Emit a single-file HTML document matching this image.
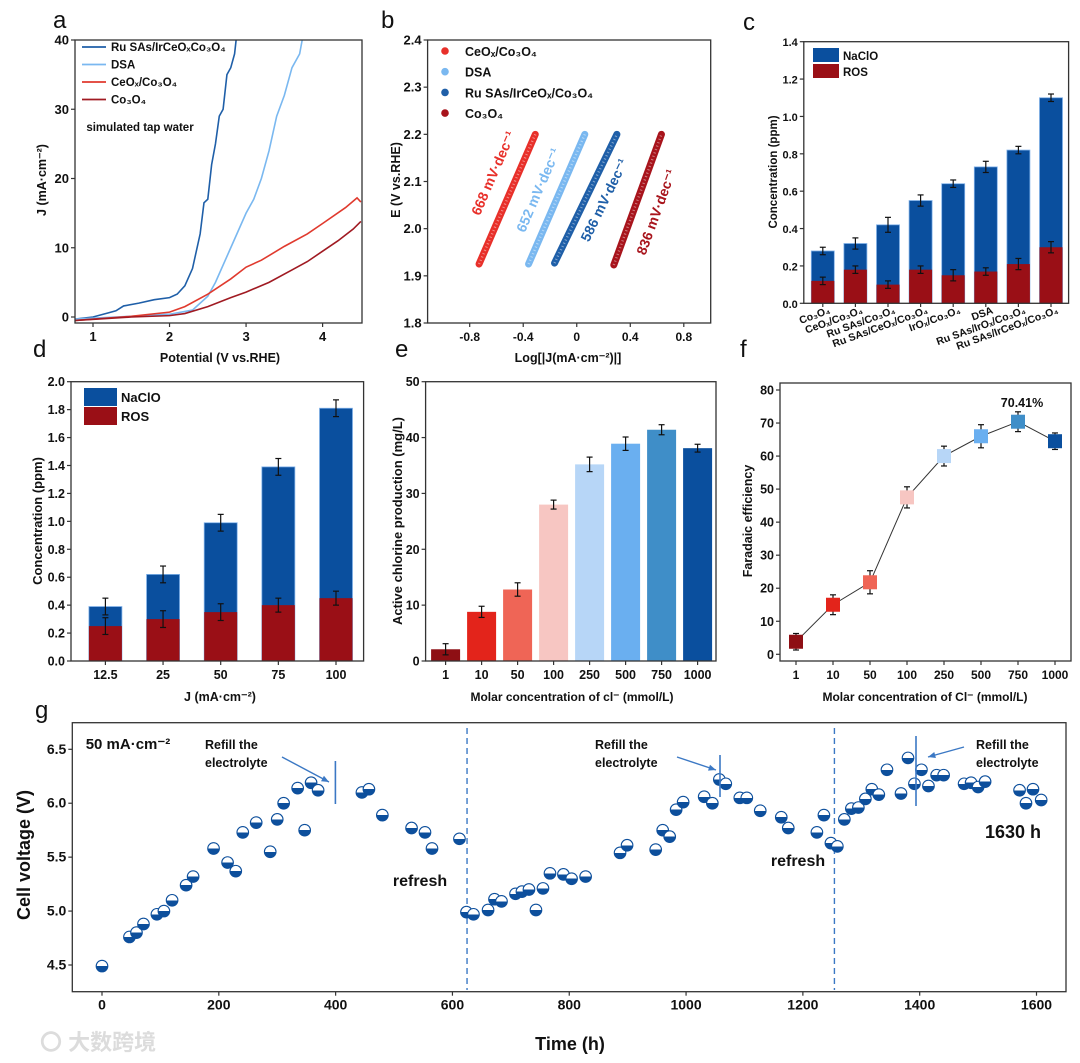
<!DOCTYPE html>
<html><head><meta charset="utf-8">
<style>
html,body{margin:0;padding:0;background:#fff;}
svg{display:block;font-family:"Liberation Sans","Noto Sans CJK SC",sans-serif;font-weight:bold;}
</style></head>
<body>
<svg id="fig" width="1080" height="1063" viewBox="0 0 1080 1063" xmlns="http://www.w3.org/2000/svg">
<defs>
<linearGradient id="half" x1="0" y1="0" x2="0" y2="1">
<stop offset="0.5" stop-color="#ffffff"/><stop offset="0.5" stop-color="#0d4f9c"/>
</linearGradient>
<clipPath id="clipA"><rect x="75" y="40" width="287" height="283"/></clipPath>
</defs>
<text x="40" y="1050" font-size="22" fill="#dcdcdc">〇 大数跨境</text>
</svg>
<script>
// ---------- DATA ----------
const aRu = [[0.77,-0.3],[1.0,0],[1.2,0.6],[1.3,0.9],[1.4,1.6],[1.6,2.0],[1.8,2.5],[2.0,2.8],[2.1,3.3],[2.2,4.5],[2.3,7],[2.4,12],[2.45,16.5],[2.5,17],[2.55,22],[2.6,25],[2.65,29],[2.7,30],[2.75,35],[2.8,36],[2.85,38],[2.88,41]];
const aDSA = [[0.77,-0.3],[1.5,0.1],[2.0,0.4],[2.3,1],[2.5,3],[2.6,5],[2.8,10],[3.0,15],[3.1,17],[3.2,20],[3.3,24],[3.4,29],[3.5,32],[3.6,36],[3.7,38],[3.75,41],[3.85,41]];
const aCe = [[0.77,-0.5],[1.5,0.1],[2.0,0.7],[2.2,1.5],[2.5,3.3],[2.8,5.5],[3.0,7.2],[3.2,8.2],[3.5,10.2],[3.8,12],[4.0,13.5],[4.3,15.8],[4.45,17.2],[4.5,16.6]];
const aCo = [[0.77,-0.5],[1.5,0],[2.0,0.2],[2.2,0.5],[2.5,1.5],[2.8,2.8],[3.0,3.6],[3.3,5],[3.6,6.8],[3.8,8],[4.0,9.5],[4.2,11],[4.4,12.7],[4.5,13.8]];
const aXTicks = [1,2,3,4];
const aYTicks = [0,10,20,30,40];
const bNames = ["CeOx/Co3O4","DSA","Ru SAs/IrCeOx/Co3O4","Co3O4"];
const bStart = [[-0.73,1.925],[-0.36,1.925],[-0.166,1.927],[0.277,1.923]];
const bEnd = [[-0.31,2.2],[0.06,2.2],[0.30,2.2],[0.633,2.2]];
const bSlopes = ["668","652","586","836"];
const bXTicks = [-0.8,-0.4,0.0,0.4,0.8];
const bYTicks = [1.8,1.9,2.0,2.1,2.2,2.3,2.4];
const cCats = ["Co₃O₄","CeOₓ/Co₃O₄","Ru SAs/Co₃O₄","Ru SAs/CeOₓ/Co₃O₄","IrOₓ/Co₃O₄","DSA","Ru SAs/IrOₓ/Co₃O₄","Ru SAs/IrCeOₓ/Co₃O₄"];
const cNaClO = [0.28,0.32,0.42,0.55,0.64,0.73,0.82,1.10];
const cNaClOErr = [0.02,0.03,0.04,0.03,0.02,0.03,0.02,0.02];
const cROS = [0.12,0.18,0.10,0.18,0.15,0.17,0.21,0.30];
const cROSErr = [0.02,0.02,0.02,0.02,0.03,0.02,0.03,0.03];
const cYTicks = [0.0,0.2,0.4,0.6,0.8,1.0,1.2,1.4];
const dCats = ["12.5","25","50","75","100"];
const dNaClO = [0.39,0.62,0.99,1.39,1.81];
const dNaClOErr = [0.06,0.06,0.06,0.06,0.06];
const dROS = [0.25,0.30,0.35,0.40,0.45];
const dROSErr = [0.06,0.06,0.06,0.05,0.05];
const dYTicks = [0.0,0.2,0.4,0.6,0.8,1.0,1.2,1.4,1.6,1.8,2.0];
const eCats = ["1","10","50","100","250","500","750","1000"];
const eVals = [2.1,8.8,12.8,28,35.2,38.9,41.4,38.1];
const eErr = [1.0,1.0,1.2,0.8,1.3,1.2,0.9,0.7];
const eYTicks = [0,10,20,30,40,50];
const fVals = [3.8,15,21.8,47.5,60,66,70.4,64.5];
const fErr = [2.5,3,3.5,3.2,3,3.5,3,2.5];
const fYTicks = [0,10,20,30,40,50,60,70,80];
const gTime = [0,47,59,71,94,106,120,144,156,191,215,229,241,264,288,300,311,335,347,358,370,445,457,480,530,553,565,612,624,636,661,672,684,708,719,731,743,755,767,790,804,828,887,899,948,960,972,983,995,1031,1045,1057,1068,1092,1104,1127,1163,1175,1224,1236,1248,1259,1271,1283,1295,1307,1318,1330,1344,1368,1380,1391,1403,1415,1429,1441,1476,1488,1500,1512,1571,1582,1594,1608];
const gVolt = [4.49,4.76,4.80,4.88,4.97,5.0,5.1,5.24,5.32,5.58,5.45,5.37,5.73,5.82,5.55,5.85,6.0,6.14,5.75,6.19,6.12,6.1,6.13,5.89,5.77,5.73,5.58,5.67,4.99,4.97,5.01,5.11,5.09,5.16,5.18,5.2,5.01,5.21,5.35,5.34,5.3,5.32,5.54,5.61,5.57,5.75,5.69,5.94,6.01,6.06,6.0,6.22,6.18,6.05,6.05,5.93,5.87,5.77,5.73,5.89,5.63,5.6,5.85,5.95,5.96,6.04,6.13,6.08,6.31,6.09,6.42,6.18,6.31,6.16,6.26,6.26,6.18,6.19,6.15,6.2,6.12,6.0,6.13,6.03];
const gXTicks = [0,200,400,600,800,1000,1200,1400,1600];
const gYTicks = [4.5,5.0,5.5,6.0,6.5];
const gRefresh = [625,1254];

const barColors = ["#8e0f14","#e3241b","#ef6556","#f7c6c2","#b7d6f7","#6aaff0","#3f8ec8","#0a4f9e"];
const NAVY = "#0a4f9e", RED = "#9a0f16";

// ---------- HELPERS ----------
const svg = document.getElementById('fig');
const NS = "http://www.w3.org/2000/svg";
function mk(tag, attrs, parent){
  const el = document.createElementNS(NS, tag);
  for (const k in attrs) el.setAttribute(k, attrs[k]);
  (parent||svg).appendChild(el);
  return el;
}
function lin(d0,d1,r0,r1){ return v => r0 + (v-d0)*(r1-r0)/(d1-d0); }
function txt(x,y,s,size,anchor,fill,parent){
  const t = mk('text',{x:x,y:y,'font-size':size,'text-anchor':anchor||'start',fill:fill||'#111'},parent);
  t.textContent = s;
  return t;
}
function frame(x0,y0,x1,y1,name){
  const r = mk('rect',{x:x0,y:y0,width:x1-x0,height:y1-y0,fill:'none',stroke:'#333','stroke-width':1.3});
  
  
}
function yAxis(ticks, ys, x0, fmt, size, name){
  const g = mk('g',{});
  
  
  ticks.forEach(v=>{
    mk('line',{x1:x0-4,x2:x0,y1:ys(v),y2:ys(v),stroke:'#333','stroke-width':1.2},g);
    txt(x0-6, ys(v)+4.5, fmt(v), size||12, 'end', '#111', g);
  });
}
function xAxis(labels, xs, y0, size, name){
  const g = mk('g',{});
  
  
  labels.forEach((l,i)=>{
    const x = xs(i, l);
    mk('line',{x1:x,x2:x,y1:y0,y2:y0+4,stroke:'#333','stroke-width':1.2},g);
    txt(x, y0+18, String(l), size||12, 'middle', '#111', g);
  });
}
function errBar(x,y1,y2,parent){
  mk('line',{x1:x,x2:x,y1:y1,y2:y2,stroke:'#111','stroke-width':1.2},parent);
  mk('line',{x1:x-3,x2:x+3,y1:y1,y2:y1,stroke:'#111','stroke-width':1.2},parent);
  mk('line',{x1:x-3,x2:x+3,y1:y2,y2:y2,stroke:'#111','stroke-width':1.2},parent);
}
function panelLabel(x,y,s){
  const t = txt(x,y,s,24,'start','#111');
  t.setAttribute('font-weight','normal');
  
  
}
function rotTitle(x,y,s,size,name){
  const t = txt(x,y,s,size,'middle','#111');
  t.setAttribute('transform','rotate(-90 '+x+' '+y+')');
  
  
}
function title(x,y,s,size,name){
  const t = txt(x,y,s,size,'middle','#111');
  
  
}

// ---------- PANEL A ----------
panelLabel(53,28,'a');
const xa = lin(1,4,93,322.6), ya = lin(0,40,317,40);
const aSeries = [[aRu,'#1f5fa8','ru-sas-curve'],[aDSA,'#7ab8f0','dsa-curve'],[aCe,'#e03a2e','ceox-curve'],[aCo,'#a01a22','co3o4-curve']];
aSeries.forEach(s=>{
  const p = mk('polyline',{points:s[0].map(d=>xa(d[0])+','+ya(d[1])).join(' '),fill:'none',stroke:s[1],'stroke-width':1.6,'clip-path':'url(#clipA)'});
  
  
});
frame(75,40,362,323,'panel-a-frame');
yAxis(aYTicks, ya, 75, v=>v, 13, 'panel-a-y-axis');
xAxis(aXTicks, (i,l)=>xa(l), 323, 13, 'panel-a-x-axis');
title(220,362,'Potential (V vs.RHE)',12.5,'panel-a-x-title');
rotTitle(46,180,'J (mA·cm⁻²)',12.5,'panel-a-y-title');
const aLeg = [['Ru SAs/IrCeOₓCo₃O₄','#1f5fa8'],['DSA','#7ab8f0'],['CeOₓ/Co₃O₄','#e03a2e'],['Co₃O₄','#a01a22']];
aLeg.forEach((l,i)=>{
  const y = 47+i*17.5;
  const g = mk('g',{});
  
  
  mk('line',{x1:82,x2:106,y1:y,y2:y,stroke:l[1],'stroke-width':1.8},g);
  txt(111,y+4,l[0],11.5,'start','#111',g);
});
title(140,131,'simulated tap water',11.5,'panel-a-note');

// ---------- PANEL B ----------
panelLabel(381,28,'b');
const xb = lin(-0.8,0.8,469.7,683.8), yb = lin(1.8,2.4,323,40);
const bColors = ['#e8302a','#7ab8f0','#1f5fa8','#a8141c'];
const bLabelPos = [[493,173],[538,190],[604,200],[656,212]];
bNames.forEach((n,i)=>{
  const x1=xb(bStart[i][0]), y1=yb(bStart[i][1]), x2=xb(bEnd[i][0]), y2=yb(bEnd[i][1]);
  const l = mk('line',{x1:x1,y1:y1,x2:x2,y2:y2,stroke:bColors[i],'stroke-width':7,'stroke-linecap':'round'});
  
  
  mk('line',{x1:x1,y1:y1,x2:x2,y2:y2,stroke:'#ffffff','stroke-opacity':0.45,'stroke-width':2.5,'stroke-dasharray':'1 2.6'});
  const ang = Math.atan2(y2-y1,x2-x1)*180/Math.PI;
  const cx = bLabelPos[i][0], cy = bLabelPos[i][1];
  const t = txt(cx,cy+5,bSlopes[i]+' mV·dec⁻¹',14,'middle',bColors[i]);
  t.setAttribute('transform','rotate('+ang+' '+cx+' '+cy+')');
  
  
});
frame(427.6,40,710.7,323,'panel-b-frame');
yAxis(bYTicks, yb, 427.6, v=>v.toFixed(1), 13, 'panel-b-y-axis');
xAxis(bXTicks, (i,l)=>xb(l), 323, 12, 'panel-b-x-axis');
title(568,362,'Log[|J(mA·cm⁻²)|]',12.5,'panel-b-x-title');
rotTitle(400,180,'E (V vs.RHE)',12.5,'panel-b-y-title');
['CeOₓ/Co₃O₄','DSA','Ru SAs/IrCeOₓ/Co₃O₄','Co₃O₄'].forEach((s,i)=>{
  const y = 51+i*20.7;
  const g = mk('g',{});
  
  
  mk('circle',{cx:445,cy:y,r:3.8,fill:bColors[i]},g);
  txt(465,y+5,s,12.5,'start','#111',g);
});

// ---------- PANEL C ----------
panelLabel(743,30,'c');
const yc = lin(0,1.4,303.3,41.7);
const xc = i => 822.8 + i*32.6;
cCats.forEach((c,i)=>{
  const b = mk('rect',{x:xc(i)-11.5,y:yc(cNaClO[i]),width:23,height:yc(0)-yc(cNaClO[i]),fill:NAVY,stroke:'#7fb0e8','stroke-width':0.8});
  
  
  errBar(xc(i), yc(cNaClO[i]+cNaClOErr[i]), yc(cNaClO[i]-cNaClOErr[i]));
  const r = mk('rect',{x:xc(i)-11.5,y:yc(cROS[i]),width:23,height:yc(0)-yc(cROS[i]),fill:RED});
  
  
  errBar(xc(i), yc(cROS[i]+cROSErr[i]), yc(cROS[i]-cROSErr[i]));
  const x = xc(i)+8, y = 313;
  const t = txt(x,y,c,10.5,'end','#111');
  t.setAttribute('transform','rotate(-20 '+x+' '+y+')');
  
  
  mk('line',{x1:xc(i),x2:xc(i),y1:303.3,y2:307,stroke:'#333','stroke-width':1.2});
});
frame(803.8,41.7,1068.6,303.3,'panel-c-frame');
yAxis(cYTicks, yc, 803.8, v=>v.toFixed(1), 11, 'panel-c-y-axis');
rotTitle(777,172,'Concentration (ppm)',11.5,'panel-c-y-title');
[['NaClO',NAVY],['ROS',RED]].forEach((l,i)=>{
  const g = mk('g',{});
  
  
  mk('rect',{x:813,y:48+i*16,width:26,height:14,fill:l[1]},g);
  txt(843,60+i*16,l[0],11.5,'start','#111',g);
});

// ---------- PANEL D ----------
panelLabel(33,357,'d');
const yd = lin(0,2,661,381.7);
const xd = i => 105.4 + i*57.65;
dCats.forEach((c,i)=>{
  const b = mk('rect',{x:xd(i)-16.5,y:yd(dNaClO[i]),width:33,height:yd(0)-yd(dNaClO[i]),fill:NAVY,stroke:'#7fb0e8','stroke-width':0.8});
  
  
  errBar(xd(i), yd(dNaClO[i]+dNaClOErr[i]), yd(dNaClO[i]-dNaClOErr[i]));
  const r = mk('rect',{x:xd(i)-16.5,y:yd(dROS[i]),width:33,height:yd(0)-yd(dROS[i]),fill:RED});
  
  
  errBar(xd(i), yd(dROS[i]+dROSErr[i]), yd(dROS[i]-dROSErr[i]));
});
frame(71,381.7,363.6,661,'panel-d-frame');
yAxis(dYTicks, yd, 71, v=>v.toFixed(1), 12.5, 'panel-d-y-axis');
xAxis(dCats, i=>xd(i), 661, 12.5, 'panel-d-x-axis');
title(220,701,'J (mA·cm⁻²)',12.5,'panel-d-x-title');
rotTitle(42,521,'Concentration (ppm)',13,'panel-d-y-title');
[['NaClO',NAVY],['ROS',RED]].forEach((l,i)=>{
  const g = mk('g',{});
  
  
  mk('rect',{x:84,y:388+i*19,width:33,height:18,fill:l[1]},g);
  txt(121,402+i*19,l[0],13,'start','#111',g);
});

// ---------- PANEL E ----------
panelLabel(395,357,'e');
const ye = lin(0,50,661,381.7);
const xe = i => 445.6 + i*36.0;
eCats.forEach((c,i)=>{
  const b = mk('rect',{x:xe(i)-14.5,y:ye(eVals[i]),width:29,height:ye(0)-ye(eVals[i]),fill:barColors[i]});
  
  
  errBar(xe(i), ye(eVals[i]+eErr[i]), ye(eVals[i]-eErr[i]));
});
frame(425.6,381.7,716,661,'panel-e-frame');
yAxis(eYTicks, ye, 425.6, v=>v, 12.5, 'panel-e-y-axis');
xAxis(eCats, i=>xe(i), 661, 12.5, 'panel-e-x-axis');
title(572,701,'Molar concentration of cl⁻ (mmol/L)',12,'panel-e-x-title');
rotTitle(402,521,'Active chlorine production (mg/L)',13,'panel-e-y-title');

// ---------- PANEL F ----------
panelLabel(740,357,'f');
const yf = lin(0,80,654.3,390);
const xf = i => 796 + i*37;
const fLine = mk('polyline',{points:fVals.map((v,i)=>xf(i)+','+yf(v)).join(' '),fill:'none',stroke:'#333','stroke-width':1});


fVals.forEach((v,i)=>{
  errBar(xf(i), yf(v+fErr[i]), yf(v-fErr[i]));
  const s = mk('rect',{x:xf(i)-7,y:yf(v)-7,width:14,height:14,fill:barColors[i]});
  
  
});
frame(780,383,1071,661,'panel-f-frame');
yAxis(fYTicks, yf, 780, v=>v, 12.5, 'panel-f-y-axis');
xAxis(eCats, i=>xf(i), 661, 12, 'panel-f-x-axis');
title(925,701,'Molar concentration of Cl⁻ (mmol/L)',12,'panel-f-x-title');
rotTitle(752,521,'Faradaic efficiency',12.5,'panel-f-y-title');
title(1022,407,'70.41%',12.5,'fe-max-label');

// ---------- PANEL G ----------
panelLabel(35,718,'g');
const xg = lin(0,1600,102,1036.5), yg = lin(4.5,6.5,965,749.3);
gRefresh.forEach(t=>{
  const l = mk('line',{x1:xg(t),x2:xg(t),y1:728,y2:990,stroke:'#3b78c4','stroke-width':1.4,'stroke-dasharray':'6 4'});
  
  
});
gTime.forEach((t,i)=>{
  const c = mk('circle',{cx:xg(t),cy:yg(gVolt[i]),r:5.8,fill:'url(#half)',stroke:'#0d4f9c','stroke-width':1.1});
  
  
});
frame(72.3,722.7,1066,991.7,'panel-g-frame');
yAxis(gYTicks, yg, 72.3, v=>v.toFixed(1), 14, 'panel-g-y-axis');
xAxis(gXTicks, (i,l)=>xg(l), 991.7, 14, 'panel-g-x-axis');
title(570,1050,'Time (h)',18,'panel-g-x-title');
rotTitle(30,855,'Cell voltage (V)',18,'panel-g-y-title');
title(128,749,'50 mA·cm⁻²',15,'current-density-label');
const refills = [[205,282,757,329,782,335.4,761,804],[595,677,757,716,770,720,755,797],[976,964,747,928,757,916,736,806]];
refills.forEach(r=>{
  const g = mk('g',{});
  
  
  txt(r[0],749,'Refill the',12.5,'start','#111',g);
  txt(r[0],767,'electrolyte',12.5,'start','#111',g);
  mk('line',{x1:r[1],y1:r[2],x2:r[3],y2:r[4],stroke:'#3b78c4','stroke-width':1.4},g);
  const ang = Math.atan2(r[4]-r[2], r[3]-r[1]);
  const ax = r[3], ay = r[4];
  const p1 = (ax-8*Math.cos(ang-0.4))+','+(ay-8*Math.sin(ang-0.4));
  const p2 = (ax-8*Math.cos(ang+0.4))+','+(ay-8*Math.sin(ang+0.4));
  mk('polygon',{points:ax+','+ay+' '+p1+' '+p2,fill:'#3b78c4'},g);
  mk('line',{x1:r[5],x2:r[5],y1:r[6],y2:r[7],stroke:'#3b78c4','stroke-width':1.6},g);
});
title(420,886,'refresh',16,'refresh-label-1');
title(798,866,'refresh',16,'refresh-label-2');
title(1013,838,'1630 h',18,'duration-label');
</script>
</body></html>
